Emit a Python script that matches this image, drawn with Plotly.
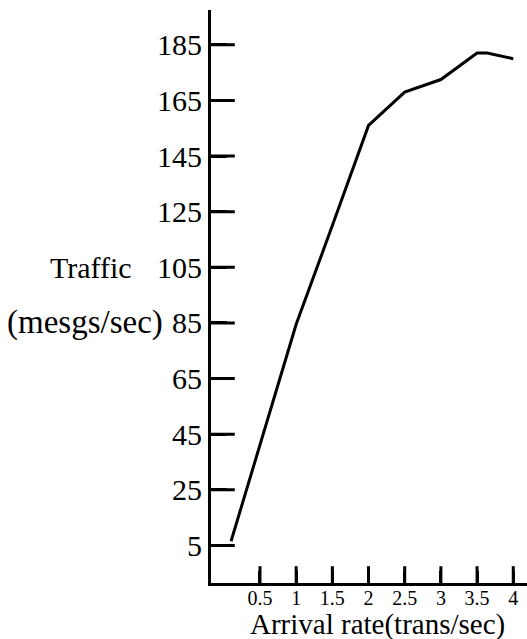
import plotly.graph_objects as go

# Measured traffic versus transaction arrival rate
arrival_rate = [0.1, 0.5, 1.0, 1.5, 2.0, 2.5, 3.0, 3.5, 3.64, 4.0]
traffic = [6.5, 41, 84.5, 120, 156, 168, 172.5, 182, 182, 180]

y_ticks = [5, 25, 45, 65, 85, 105, 125, 145, 165, 185]
x_ticks = [0.5, 1, 1.5, 2, 2.5, 3, 3.5, 4]
x_tick_text = ["0.5", "1", "1.5", "2", "2.5", "3", "3.5", "4"]

serif = "Liberation Serif, Times New Roman, DejaVu Serif, serif"

X_RANGE = [-0.177, 4.19]
Y_RANGE = [-8.5, 197.5]

fig = go.Figure()
fig.add_trace(go.Scatter(
    x=arrival_rate, y=traffic, mode="lines",
    line=dict(color="black", width=3),
    showlegend=False, hoverinfo="skip",
))

# Inward tick marks drawn as a marker glyph sitting on each axis line
fig.add_trace(go.Scatter(
    x=[X_RANGE[0]] * len(y_ticks), y=y_ticks, mode="markers",
    marker=dict(symbol="line-ew", size=34, line=dict(color="black", width=3)),
    showlegend=False, hoverinfo="skip", cliponaxis=True,
))
fig.add_trace(go.Scatter(
    x=x_ticks, y=[Y_RANGE[0]] * len(x_ticks), mode="markers",
    marker=dict(symbol="line-ns", size=24, line=dict(color="black", width=3)),
    showlegend=False, hoverinfo="skip", cliponaxis=True,
))

fig.update_layout(
    width=527, height=639,
    margin=dict(l=211, r=0, t=10, b=56),
    paper_bgcolor="white", plot_bgcolor="white",
    font=dict(family=serif, color="black"),
    xaxis=dict(
        range=X_RANGE,
        tickmode="array", tickvals=x_ticks, ticktext=x_tick_text,
        ticks="inside", ticklen=12, tickwidth=3, tickcolor="black",
        showline=True, linewidth=3, linecolor="black",
        showgrid=False, zeroline=False, ticklabelstandoff=-5,
        tickfont=dict(family=serif, size=20),
    ),
    yaxis=dict(
        range=Y_RANGE,
        tickmode="array", tickvals=y_ticks,
        ticks="inside", ticklen=16, tickwidth=3, tickcolor="black",
        showline=True, linewidth=3, linecolor="black",
        showgrid=False, zeroline=False,
        tickfont=dict(family=serif, size=30),
    ),
)

# X-axis caption sits just beneath the tick labels
fig.add_annotation(text="Arrival rate(trans/sec)", xref="paper", yref="paper",
                   x=0.528, y=-0.072, xanchor="center", yanchor="middle",
                   showarrow=False, font=dict(family=serif, size=29))

# Two-line y-axis caption set beside the 105 and 85 tick labels
fig.add_annotation(text="Traffic", xref="paper", yref="y", x=-0.38, y=105,
                   xanchor="center", yanchor="middle", showarrow=False,
                   font=dict(family=serif, size=30))
fig.add_annotation(text="(mesgs/sec)", xref="paper", yref="y", x=-0.4, y=85,
                   xanchor="center", yanchor="middle", showarrow=False,
                   font=dict(family=serif, size=33))

fig.write_html("out.html")
